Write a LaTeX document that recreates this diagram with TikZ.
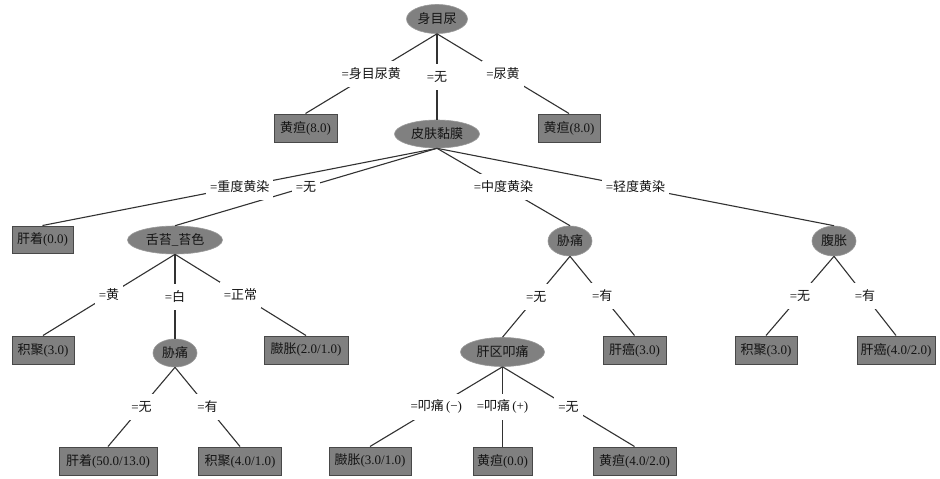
\documentclass[tikz,border=0pt]{standalone}
\usepackage{fontspec}
\setmainfont{Liberation Serif}
\newfontfamily\cjk{Noto Sans CJK SC}
\newcommand\zh[1]{{\cjk #1}}
\usetikzlibrary{shapes.geometric}
\definecolor{nodefill}{RGB}{128,128,128}
\definecolor{boxline}{RGB}{72,72,72}
\definecolor{edgecol}{RGB}{50,50,50}
\definecolor{txt}{RGB}{20,20,20}
\tikzset{
  base/.style={font=\fontsize{13}{15}\selectfont, text=txt},
  inner/.style={base, ellipse, fill=nodefill, draw=nodefill!80!white, line width=0.6pt, inner sep=0pt, minimum height=28pt},
  leaf/.style={base, rectangle, fill=nodefill, draw=boxline, line width=1pt, inner sep=0pt, minimum height=28pt},
  lab/.style={base, fill=white, inner xsep=4pt, inner ysep=0pt, minimum height=26pt},
  conn/.style={draw=edgecol, line width=1.1pt},
}
\begin{document}
\begin{tikzpicture}[x=1pt,y=-1pt]
\useasboundingbox[fill=white] (0,0) rectangle (940,479);
% nodes
\node[inner, minimum width=61pt, minimum height=29pt] (r) at (437,19) {\zh{身目尿}};
\node[leaf, minimum width=63pt] (l1) at (305.5,128) {\zh{黄疸}(8.0)};
\node[inner, minimum width=85pt] (s) at (437,134) {\zh{皮肤黏膜}};
\node[leaf, minimum width=62pt] (l2) at (569,128) {\zh{黄疸}(8.0)};
\node[leaf, minimum width=61pt, minimum height=27pt] (g1) at (42.5,239.5) {\zh{肝着}(0.0)};
\node[inner, minimum width=95pt] (t) at (175,240) {\zh{舌苔}\_\zh{苔色}};
\node[inner, minimum width=44pt, minimum height=30pt] (x1) at (570,241) {\zh{胁痛}};
\node[inner, minimum width=44pt, minimum height=30pt] (f) at (834,241) {\zh{腹胀}};
\node[leaf, minimum width=62pt] (j1) at (43,350) {\zh{积聚}(3.0)};
\node[inner, minimum width=44pt] (x2) at (175,353) {\zh{胁痛}};
\node[leaf, minimum width=84pt] (p1) at (306,350) {\zh{臌胀}(2.0/1.0)};
\node[leaf, minimum width=98pt] (g2) at (108,461) {\zh{肝着}(50.0/13.0)};
\node[leaf, minimum width=83pt] (j2) at (240,461) {\zh{积聚}(4.0/1.0)};
\node[leaf, minimum width=63pt] (a1) at (634.5,350) {\zh{肝癌}(3.0)};
\node[inner, minimum width=84pt, minimum height=29pt] (k) at (502.5,352) {\zh{肝区叩痛}};
\node[leaf, minimum width=82pt] (p2) at (370,461) {\zh{臌胀}(3.0/1.0)};
\node[leaf, minimum width=59pt] (h1) at (502.5,461) {\zh{黄疸}(0.0)};
\node[leaf, minimum width=83pt] (h2) at (634.5,461) {\zh{黄疸}(4.0/2.0)};
\node[leaf, minimum width=62pt] (j3) at (766,350) {\zh{积聚}(3.0)};
\node[leaf, minimum width=78pt] (a2) at (896,350) {\zh{肝癌}(4.0/2.0)};
% edges
\draw[conn] (r.south) -- node[lab] {=\zh{身目尿黄}} (l1.north);
\draw[conn] (r.south) -- node[lab] {=\zh{无}} (s.north);
\draw[conn] (r.south) -- node[lab] {=\zh{尿黄}} (l2.north);
\draw[conn] (s.south) -- node[lab] {=\zh{无}} (t.north);
\draw[conn] (s.south) -- node[lab] {=\zh{重度黄染}} (g1.north);
\draw[conn] (s.south) -- node[lab] {=\zh{中度黄染}} (x1.north);
\draw[conn] (s.south) -- node[lab] {=\zh{轻度黄染}} (f.north);
\draw[conn] (t.south) -- node[lab] {=\zh{黄}} (j1.north);
\draw[conn] (t.south) -- node[lab] {=\zh{白}} (x2.north);
\draw[conn] (t.south) -- node[lab] {=\zh{正常}} (p1.north);
\draw[conn] (x2.south) -- node[lab] {=\zh{无}} (g2.north);
\draw[conn] (x2.south) -- node[lab] {=\zh{有}} (j2.north);
\draw[conn] (x1.south) -- node[lab] {=\zh{无}} (k.north);
\draw[conn] (x1.south) -- node[lab] {=\zh{有}} (a1.north);
\draw[conn] (k.south) -- node[lab] {=\zh{叩痛}\,(−)} (p2.north);
\draw[conn] (k.south) -- node[lab] {=\zh{叩痛}\,(+)} (h1.north);
\draw[conn] (k.south) -- node[lab] {=\zh{无}} (h2.north);
\draw[conn] (f.south) -- node[lab] {=\zh{无}} (j3.north);
\draw[conn] (f.south) -- node[lab] {=\zh{有}} (a2.north);
\end{tikzpicture}
\end{document}
